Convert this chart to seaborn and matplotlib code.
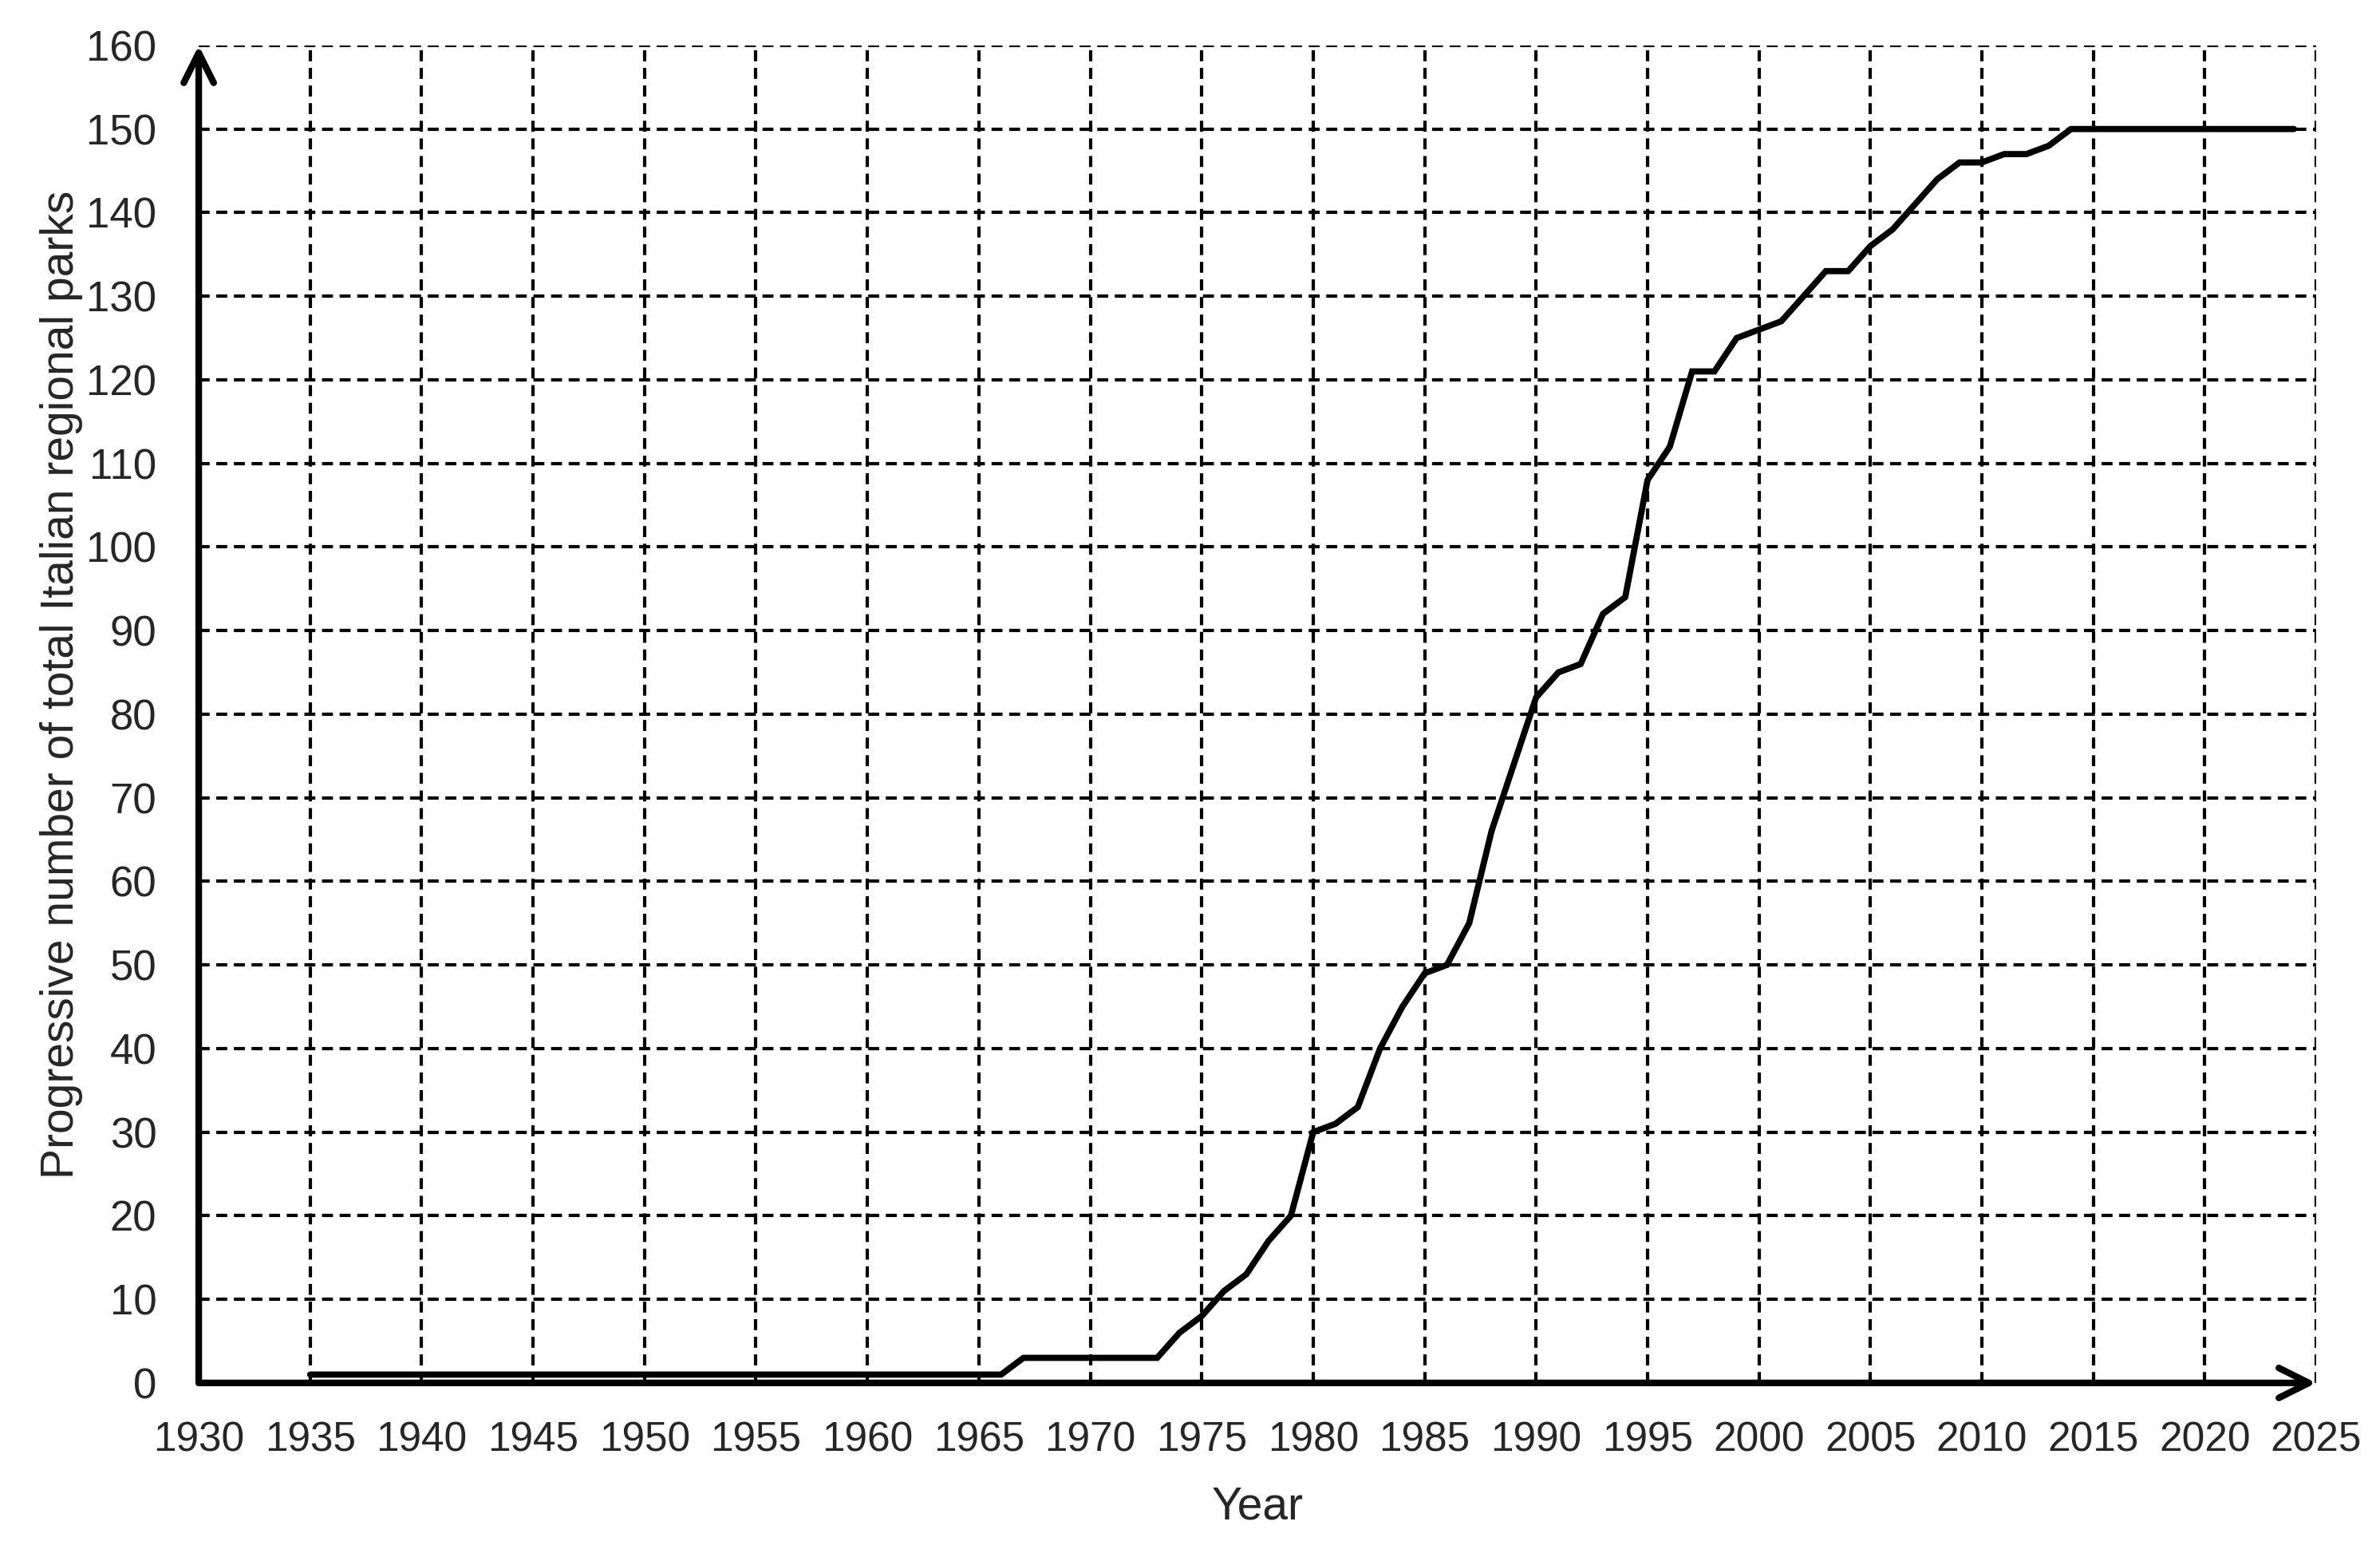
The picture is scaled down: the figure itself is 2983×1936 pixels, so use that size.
import numpy as np
import pandas as pd
import matplotlib
matplotlib.use("Agg")
import matplotlib.pyplot as plt
import seaborn as sns

# yearly cumulative count of Italian regional parks
years = list(range(1935, 2025))
parks = [
    1, 1, 1, 1, 1, 1, 1, 1, 1, 1,          # 1935-1944
    1, 1, 1, 1, 1, 1, 1, 1, 1, 1,          # 1945-1954
    1, 1, 1, 1, 1, 1, 1, 1, 1, 1,          # 1955-1964
    1, 1, 3, 3, 3, 3, 3, 3, 3, 6,          # 1965-1974
    8, 11, 13, 17, 20, 30, 31, 33, 40, 45,  # 1975-1984
    49, 50, 55, 66, 74, 82, 85, 86, 92, 94,  # 1985-1994
    108, 112, 121, 121, 125, 126, 127, 130, 133, 133,  # 1995-2004
    136, 138, 141, 144, 146, 146, 147, 147, 148, 150,  # 2005-2014
    150, 150, 150, 150, 150, 150, 150, 150, 150, 150,  # 2015-2024
]
x_ticks = list(range(1930, 2026, 5))
y_ticks = list(range(0, 161, 10))

df = pd.DataFrame({"Year": years, "Parks": parks})

sns.set_style("white")
plt.rcParams["font.family"] = ["Liberation Sans", "DejaVu Sans"]

fig = plt.figure(figsize=(29.83, 19.36), dpi=100)
ax = fig.add_axes([0.0835, 0.1049, 0.8897, 0.8657])

sns.lineplot(data=df, x="Year", y="Parks", ax=ax, color="black", linewidth=5.6,
             zorder=5, solid_joinstyle="miter")

ax.set_xlim(1930, 2025)
ax.set_ylim(0, 160)
ax.set_xticks(x_ticks)
ax.set_yticks(y_ticks)

grid_style = dict(color="black", linewidth=3.0, linestyle=(0, (3.3, 2.0)))
for xv in x_ticks[1:]:
    ax.axvline(xv, zorder=1, **grid_style)
for yv in y_ticks[1:]:
    ax.axhline(yv, zorder=1, **grid_style)

for s in ["top", "right", "left", "bottom"]:
    ax.spines[s].set_visible(False)

# axes drawn as arrows
arrow = dict(arrowstyle="->,head_length=0.9,head_width=0.45", lw=6, color="black",
             shrinkA=0, shrinkB=0, mutation_scale=30)
ax.annotate("", xy=(1.0, 0), xytext=(0, 0), xycoords="axes fraction",
            arrowprops=arrow, annotation_clip=False, zorder=10)
ax.annotate("", xy=(0, 1.0), xytext=(0, 0), xycoords="axes fraction",
            arrowprops=arrow, annotation_clip=False, zorder=10)

ax.tick_params(axis="x", length=0, pad=34, labelsize=37)
ax.tick_params(axis="y", length=0, pad=38, labelsize=38)

ax.set_xlabel("Year", fontsize=41)
ax.set_ylabel("Progressive number of total Italian regional parks", fontsize=41)
ax.xaxis.set_label_coords(0.5, -0.093)
ax.xaxis.label.set_va("center")
ax.yaxis.set_label_coords(-0.065, 0.522)
ax.yaxis.label.set_va("center")

fig.savefig("out.png", dpi=100)
